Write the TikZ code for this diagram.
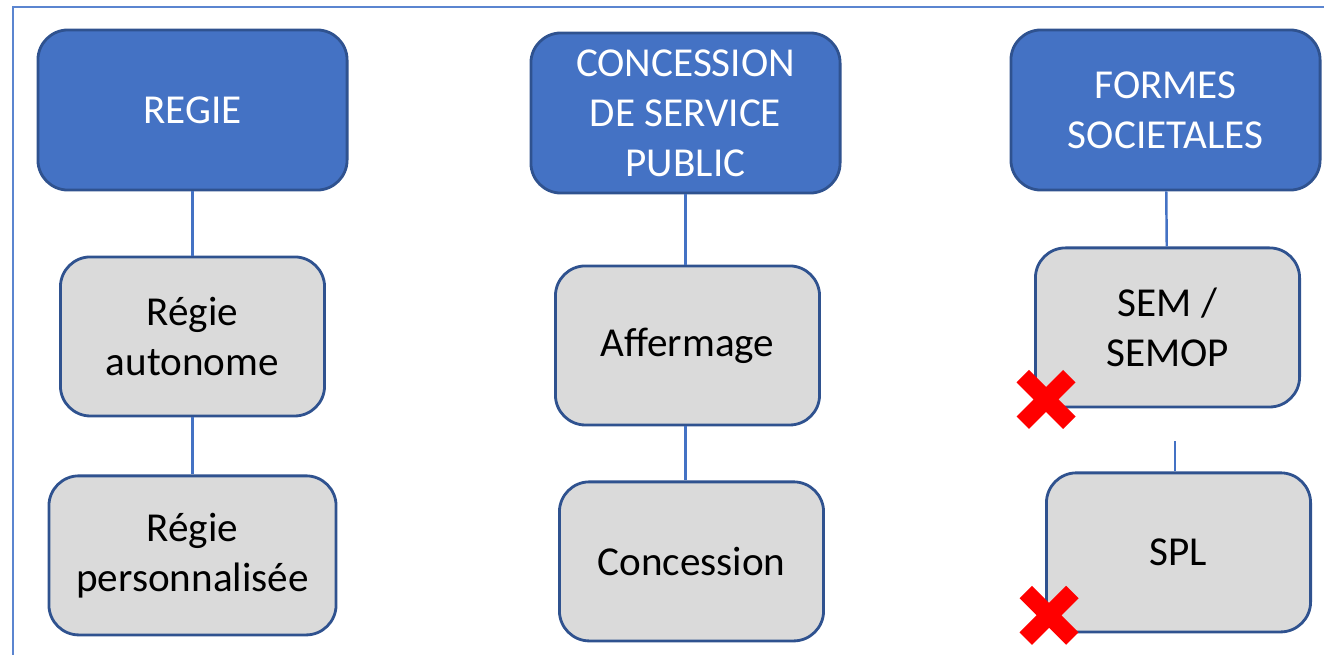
\documentclass[tikz,border=0pt]{standalone}
\usepackage{fontspec}
\setmainfont{Carlito}
\usepackage{tikz}
\usetikzlibrary{positioning, shapes.misc}
\definecolor{officeblue}{HTML}{4472C4}
\definecolor{darkblue}{HTML}{2F528F}
\definecolor{boxgrey}{HTML}{DADADA}
\definecolor{frameblue}{HTML}{5B85D0}
\definecolor{xred}{HTML}{FF0000}

\begin{document}
\begin{tikzpicture}[
        x=0.01cm, y=-0.01cm,
        box/.style = {draw=darkblue, rectangle, rounded corners=0.3cm, align=center, line width=0.8pt, font=\fontsize{11.7}{14.2}\selectfont},
        headbox/.style = {box, fill=officeblue, text=white, minimum width=3.09cm, minimum height=1.60cm},
        subbox/.style = {box, fill=boxgrey, text=black, minimum width=2.64cm, minimum height=1.59cm},
        link/.style = {draw=officeblue, line width=0.7pt},
        redx/.style = {cross out, draw=xred, line width=5pt, minimum size=0.29cm, inner sep=0pt}
    ]
        \useasboundingbox (0,0) rectangle (1324,654);

        % Frame
        \draw [frameblue, line width=0.7pt] (13,660) -- (13,7) -- (1330,7);

        % Regie
        \node (regie) [headbox] at (192.5,110) {REGIE};
        \node (autonome) [subbox, below=0.64cm of regie] {Régie\\autonome};
        \node (perso) [subbox, minimum width=2.87cm, below=0.57cm of autonome] {Régie\\personnalisée};

        % Concession de service public
        \node (csp) [headbox] at (685.5,113) {CONCESSION\\DE SERVICE\\PUBLIC};
        \node (affermage) [subbox, below=0.70cm of csp, xshift=0.02cm] {Affermage};
        \node (concession) [subbox, below=0.54cm of affermage, xshift=0.04cm] {Concession};

        % Formes societales
        \node (formes) [headbox] at (1165.5,110) {FORMES\\SOCIETALES};
        \node (sem) [subbox, below=0.55cm of formes, xshift=0.02cm] {SEM /\\SEMOP};
        \node (spl) [subbox, below=0.63cm of sem, xshift=0.11cm] {SPL};
        \coordinate (splgap) at ([xshift=-0.035cm, yshift=0.30cm]spl.north);

        % Connections
        \draw [link] (regie) -- (autonome);
        \draw [link] (autonome) -- (perso);
        \draw [link] (csp.south) -- (csp.south |- affermage.north);
        \draw [link] (affermage.south -| csp.south) -- (csp.south |- concession.north);
        \draw [link] (formes) -- (sem);
        \draw [link] (splgap) -- (splgap |- spl.north);

        % Crosses
        \node (semx) [redx] at ([xshift=0.12cm, yshift=0.09cm]sem.south west) {};
        \node (splx) [redx] at ([xshift=0.04cm, yshift=0.18cm]spl.south west) {};

    \end{tikzpicture}
\end{document}
